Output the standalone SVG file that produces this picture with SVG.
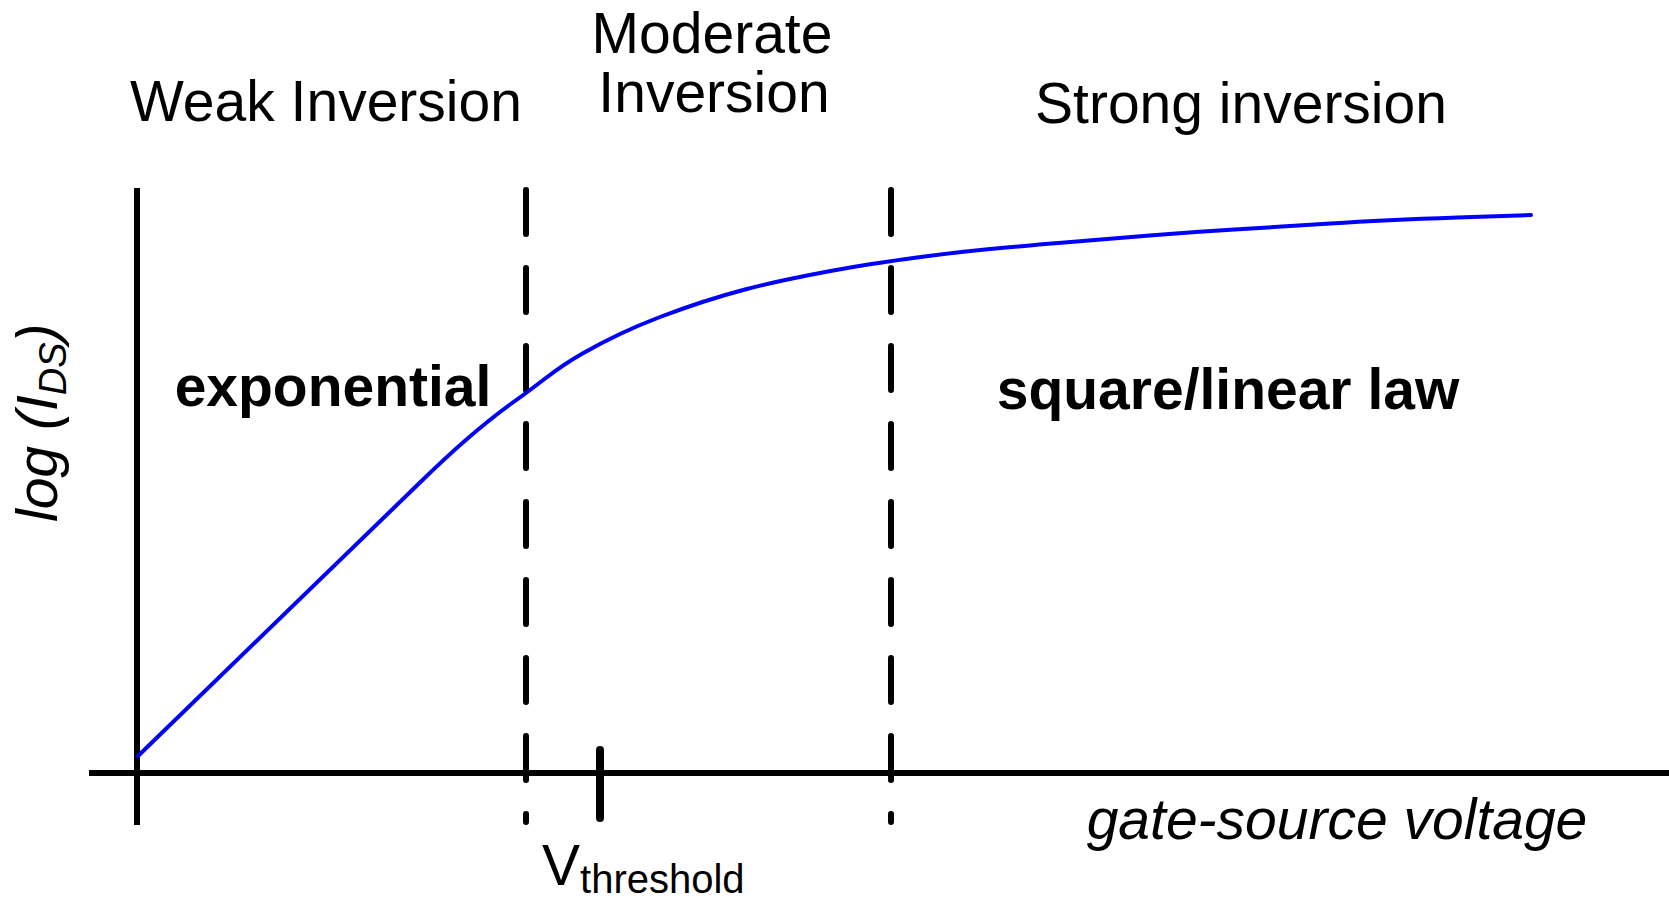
<svg xmlns="http://www.w3.org/2000/svg" width="1669" height="898" viewBox="0 0 1669 898">
<style>
.lbl{font-family:"Liberation Sans",Arial,sans-serif;font-size:57px;fill:#000}
.b{font-weight:bold}
.i{font-style:italic}
.axis{stroke:#000;stroke-width:6;fill:none}
.dash{stroke:#000;stroke-width:6;fill:none;stroke-linecap:round;stroke-dasharray:44 34}
.curve{stroke:#0000ff;stroke-width:4;fill:none;stroke-linejoin:round;stroke-linecap:round}
</style>
<rect width="1669" height="898" fill="#fff"/>
<g id="axes">
<line class="axis" x1="137" y1="188" x2="137" y2="825"/>
<line class="axis" x1="89" y1="773" x2="1669" y2="773"/>
<line id="vth-tick" x1="600" y1="750" x2="600" y2="818" stroke="#000" stroke-width="8" stroke-linecap="round"/>
</g>
<g id="boundaries">
<line class="dash" x1="526" y1="190" x2="526" y2="822"/>
<line class="dash" x1="891" y1="190" x2="891" y2="822"/>
</g>
<g id="curve">
<path class="curve" d="M138,756 L420,482.5 C450,453 475,430 510,404.5 Q525,394 544.5,379 Q564,364 582.5,353.5 Q601,343 620,334 Q639,325 660,317 Q681,309 702.5,302 Q724,295 745,289.5 Q766,284 787.5,279.5 Q809,275 830.5,271 Q852,267 871.5,264 Q891,261 924.5,256.5 Q958,252 990,249 Q1022,246 1064.5,242.5 Q1107,239 1149.5,235.5 Q1192,232 1234.5,229.5 Q1277,227 1330.5,223.5 Q1384,220 1457.5,217.5 L1531,215"/>
</g>
<g id="labels">
<text class="lbl" x="326" y="121" text-anchor="middle">Weak Inversion</text>
<text class="lbl" x="712" y="53" text-anchor="middle">Moderate</text>
<text class="lbl" x="714" y="112" text-anchor="middle">Inversion</text>
<text class="lbl" x="1241" y="123" text-anchor="middle">Strong inversion</text>
<text class="lbl b" x="333" y="406" text-anchor="middle">exponential</text>
<text class="lbl b" x="1228" y="409" text-anchor="middle">square/linear law</text>
<text class="lbl i" x="1337" y="839" text-anchor="middle" font-size="55">gate-source voltage</text>
<text class="lbl" x="542" y="885">V<tspan font-size="40" dy="8">threshold</tspan></text>
<text class="lbl i" transform="translate(57,522) rotate(-90)">log (I<tspan font-size="38" dy="9">DS</tspan><tspan dy="-9">)</tspan></text>
</g>
</svg>
